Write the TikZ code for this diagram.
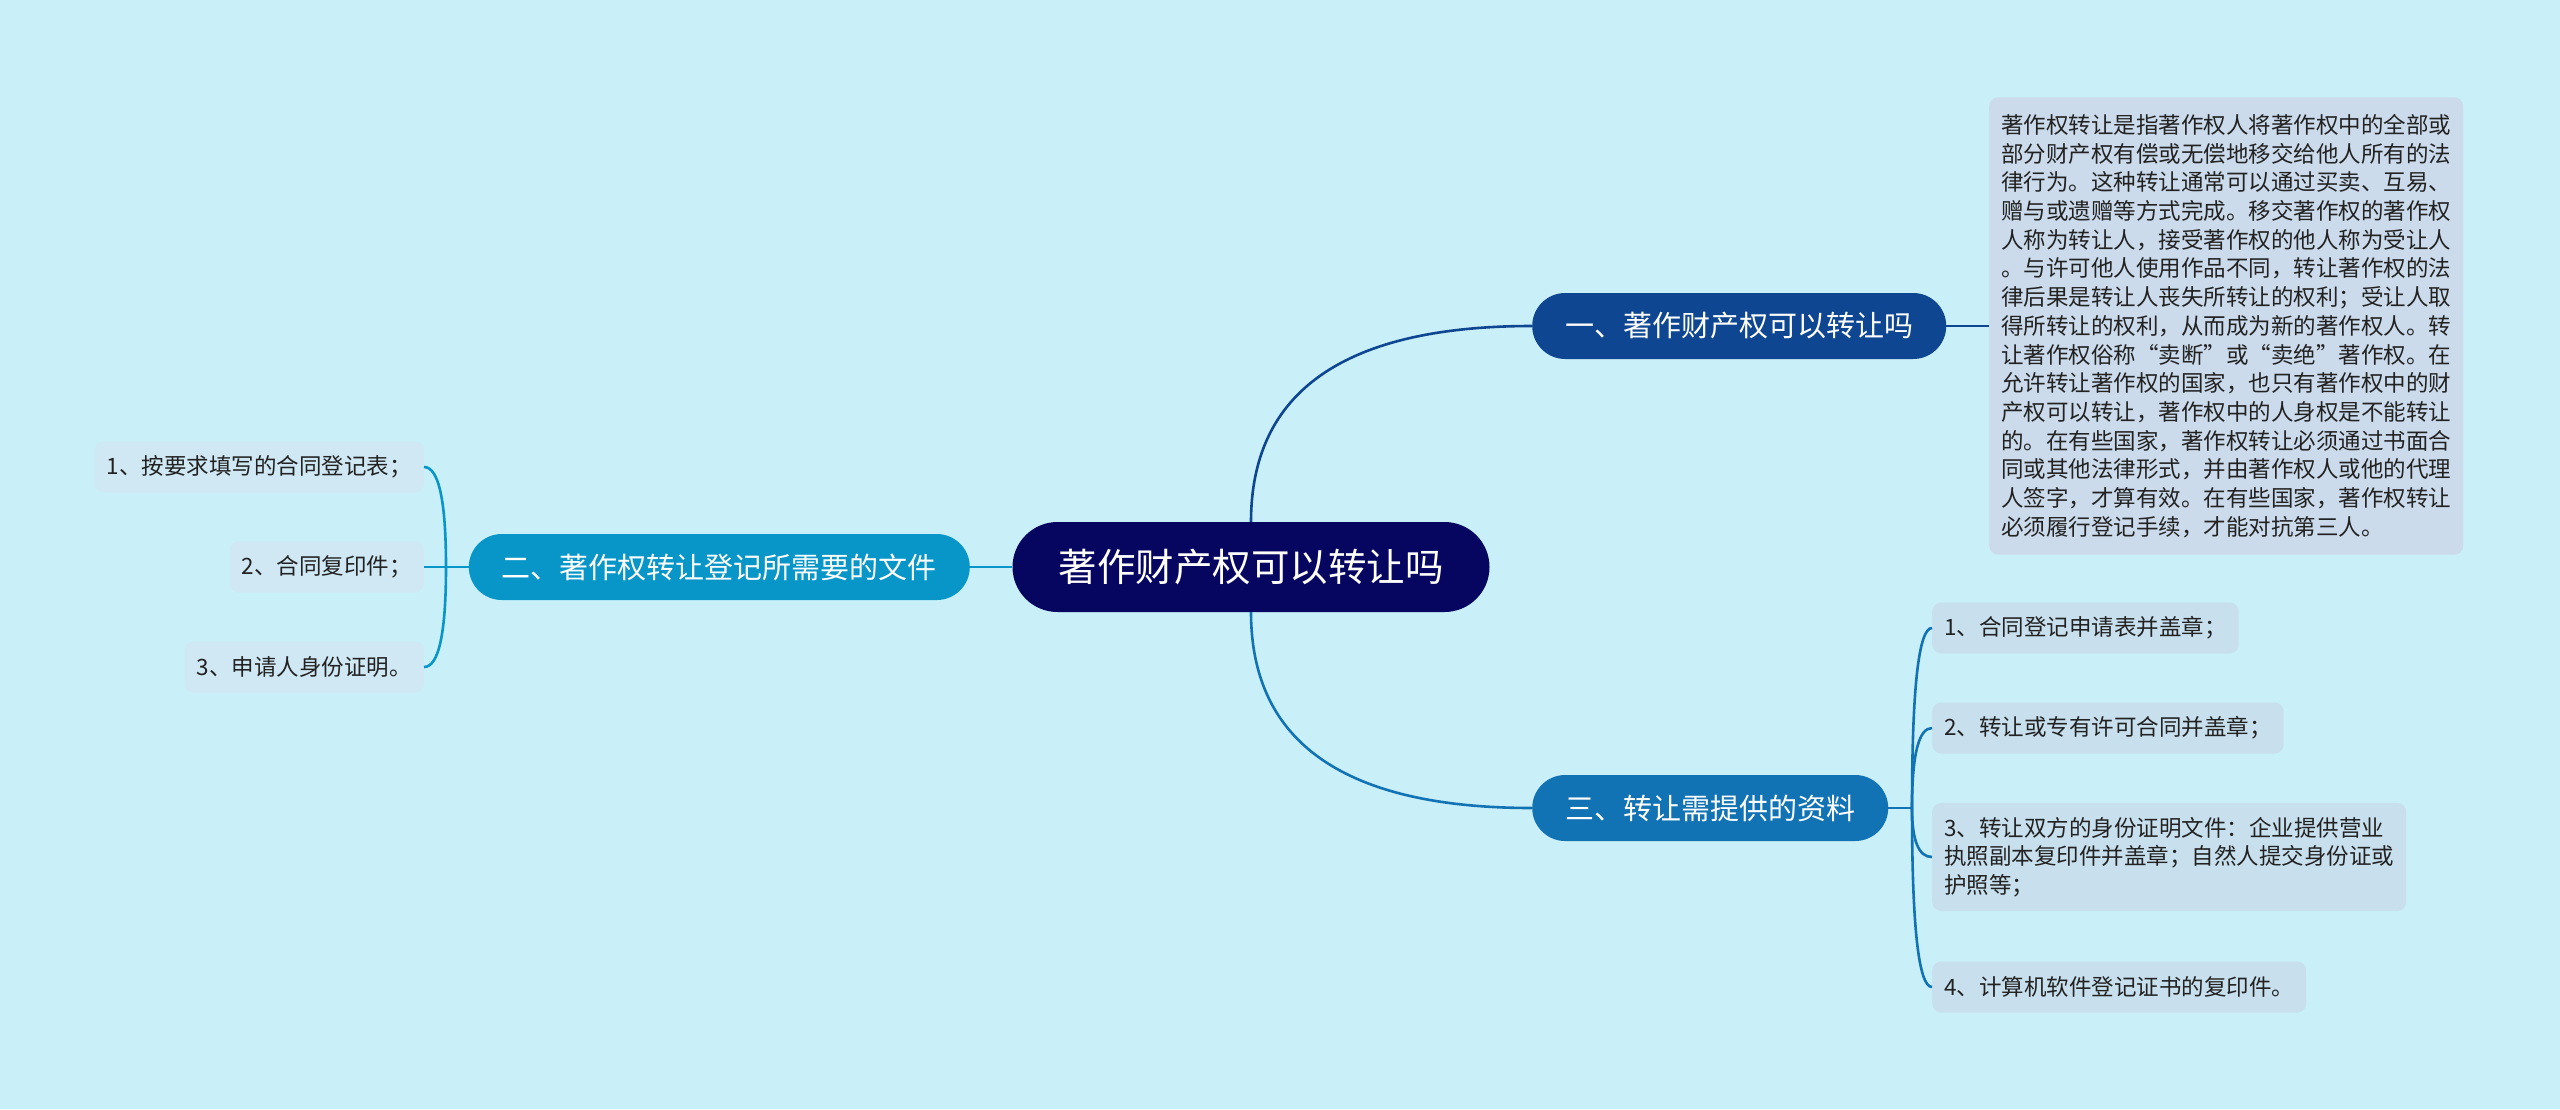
\documentclass[tikz,border=0pt]{standalone}
\usepackage{fontspec}
\setmainfont{Noto Sans CJK SC}
\usepackage{xcolor}
\usetikzlibrary{
    calc,
}

\definecolor{bgcol}{RGB}{201,239,248}
\definecolor{rootcol}{RGB}{6,6,96}
\definecolor{onecol}{RGB}{14,70,145}
\definecolor{twocol}{RGB}{8,150,200}
\definecolor{threecol}{RGB}{18,115,180}
\definecolor{leafone}{RGB}{203,219,235}
\definecolor{leaftwo}{RGB}{207,232,243}
\definecolor{leafthree}{RGB}{200,224,238}
\definecolor{leaftext}{RGB}{34,34,34}

\begin{document}
\begin{tikzpicture}[x=1pt,y=-1pt,
    root/.style={fill=rootcol,text=white,rounded corners=45pt,
                 minimum height=90pt,inner xsep=46pt,
                 font=\fontsize{38.5}{38.5}\selectfont},
    topic/.style={text=white,rounded corners=33pt,
                  minimum height=66pt,inner xsep=33pt,
                  font=\fontsize{29}{29}\selectfont},
    leaf/.style={text=leaftext,rounded corners=9pt,
                 minimum height=51pt,inner xsep=12pt,inner ysep=14pt,
                 align=left,font=\fontsize{22.5}{28.7}\selectfont},
    link/.style={line width=2.6pt},
    quad/.style={to path={.. controls
        ($(\tikztostart)!2/3!(\tikztostart |- \tikztotarget)$) and
        ($(\tikztotarget)!2/3!(\tikztostart |- \tikztotarget)$) ..
        (\tikztotarget)}},
]
    \pgfmathsetmacro\RightX{1532}
    \pgfmathsetmacro\LeafX{1932}
    \pgfmathsetmacro\LeftX{424}
    %
        % Background
    \fill[bgcol] (0,0) rectangle (2560,1109);
    \useasboundingbox (0,0) rectangle (2560,1109);
    %
        % Root
    \node[root] (root) at (1251,567) {著作财产权可以转让吗};
    %
        % Topics
    \node[topic,fill=onecol,anchor=west] (one) at (\RightX,326)
        {一、著作财产权可以转让吗};
    \node[topic,fill=twocol,anchor=east] (two) at (970,567)
        {二、著作权转让登记所需要的文件};
    \node[topic,fill=threecol,anchor=west] (three) at (\RightX,808)
        {三、转让需提供的资料};
    %
        % Topic one: text
    \node[leaf,fill=leafone,anchor=west,inner ysep=17pt,
          font=\fontsize{22.5}{28.7}\selectfont] (oneText) at (1989,326)
        {著作权转让是指著作权人将著作权中的全部或\\
         部分财产权有偿或无偿地移交给他人所有的法\\
         律行为。这种转让通常可以通过买卖、互易、\\
         赠与或遗赠等方式完成。移交著作权的著作权\\
         人称为转让人，接受著作权的他人称为受让人\\
         。与许可他人使用作品不同，转让著作权的法\\
         律后果是转让人丧失所转让的权利；受让人取\\
         得所转让的权利，从而成为新的著作权人。转\\
         让著作权俗称“卖断”或“卖绝”著作权。在\\
         允许转让著作权的国家，也只有著作权中的财\\
         产权可以转让，著作权中的人身权是不能转让\\
         的。在有些国家，著作权转让必须通过书面合\\
         同或其他法律形式，并由著作权人或他的代理\\
         人签字，才算有效。在有些国家，著作权转让\\
         必须履行登记手续，才能对抗第三人。};
    %
        % Topic two: files
    \node[leaf,fill=leaftwo,anchor=east] (twoA) at (\LeftX,467)
        {1、按要求填写的合同登记表；};
    \node[leaf,fill=leaftwo,anchor=east] (twoB) at (\LeftX,567)
        {2、合同复印件；};
    \node[leaf,fill=leaftwo,anchor=east] (twoC) at (\LeftX,667)
        {3、申请人身份证明。};
    %
        % Topic three: materials
    \node[leaf,fill=leafthree,anchor=west] (threeA) at (\LeafX,628)
        {1、合同登记申请表并盖章；};
    \node[leaf,fill=leafthree,anchor=west] (threeB) at (\LeafX,728)
        {2、转让或专有许可合同并盖章；};
    \node[leaf,fill=leafthree,anchor=west] (threeC) at (\LeafX,857)
        {3、转让双方的身份证明文件：企业提供营业\\
         执照副本复印件并盖章；自然人提交身份证或\\
         护照等；};
    \node[leaf,fill=leafthree,anchor=west] (threeD) at (\LeafX,987)
        {4、计算机软件登记证书的复印件。};
    %
        % Junctions
    \coordinate (twoJ) at (446,567);
    \coordinate (threeJ) at (1912,808);
    %
        % Root links
    \draw[link,draw=onecol] (root.north) to[quad] (one.west);
    \draw[link,draw=threecol] (root.south) to[quad] (three.west);
    \draw[link,draw=twocol] (root.west) -- (two.east);
    %
        % Topic one link
    \draw[link,draw=onecol] (one.east) -- (oneText.west);
    %
        % Topic two links
    \draw[link,draw=twocol] (two.west) -- (twoJ);
    \foreach \leafname in {twoA,twoB,twoC}
        \draw[link,draw=twocol] (twoJ) to[quad] (\leafname.east);
    %
        % Topic three links
    \draw[link,draw=threecol] (three.east) -- (threeJ);
    \foreach \leafname in {threeA,threeB,threeC,threeD}
        \draw[link,draw=threecol] (threeJ) to[quad] (\leafname.west);
\end{tikzpicture}
\end{document}
